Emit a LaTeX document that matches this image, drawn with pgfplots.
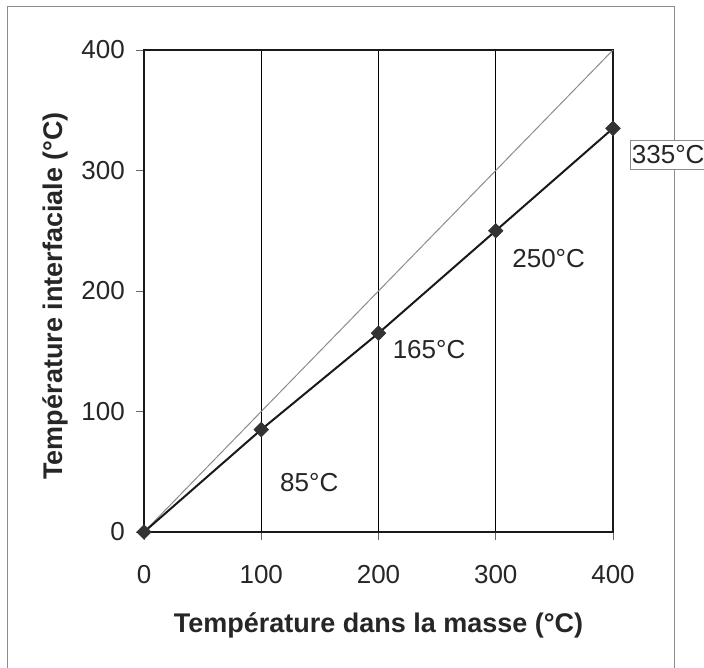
\documentclass[border=0pt]{standalone}
\usepackage{pgfplots}
\pgfplotsset{compat=1.18}
\usepackage{fontspec}
\setmainfont{Liberation Sans}
\begin{document}
\begin{tikzpicture}
\useasboundingbox (-144pt,-136pt) rectangle (560pt,532pt);
\draw[black!45, line width=1pt] (-136pt,-150pt) -- (-136pt,525pt) -- (530pt,525pt) -- (530pt,-150pt);
\begin{axis}[
  width=469pt, height=482pt, scale only axis,
  xmin=0, xmax=400, ymin=0, ymax=400,
  xtick={0,100,200,300,400}, ytick={0,100,200,300,400},
  tick pos=left, tick align=outside,
  major tick length=8pt,
  tick style={black!60, line width=0.8pt},
  xmajorgrids, major grid style={black, line width=0.8pt},
  axis line style={black!90, line width=2pt},
  /pgf/number format/assume math mode=true,
  ticklabel style={font=\fontsize{26}{30}\selectfont, text=black!85},
  xticklabel style={anchor=north, inner sep=0pt, yshift=-25pt},
  yticklabel style={anchor=east, inner sep=0pt, xshift=-11pt},
  xlabel={Température dans la masse (°C)},
  ylabel={Température interfaciale (°C)},
  label style={font=\bfseries\fontsize{27}{30}\selectfont, text=black!85},
  xlabel style={at={(axis description cs:0.5,-0.2075)}, anchor=base},
  ylabel style={at={(axis description cs:-0.1748,0.49)}, anchor=base, rotate=0},
  clip=false,
]
\addplot[black!45, line width=1pt] coordinates {(0,0) (400,400)};
\addplot[black!90, line width=2pt, mark=square*, mark size=5.2pt,
  mark options={rotate=45, fill=black!80, draw=black!80, line width=0.5pt}]
  coordinates {(0,0) (100,85) (200,165) (300,250) (400,335)};
\node[anchor=west, inner sep=0pt, font=\fontsize{26}{30}\selectfont, text=black!85] at (axis cs:116,40.7) {85°C};
\node[anchor=west, inner sep=0pt, font=\fontsize{26}{30}\selectfont, text=black!85] at (axis cs:212,151) {165°C};
\node[anchor=west, inner sep=0pt, font=\fontsize{26}{30}\selectfont, text=black!85] at (axis cs:314,227) {250°C};
\node[anchor=west, inner xsep=1.5pt, inner ysep=5pt, draw=black!45, fill=white, line width=0.8pt, font=\fontsize{26}{30}\selectfont, text=black!85] at (axis cs:414.5,313) {335°C};
\end{axis}
\end{tikzpicture}
\end{document}
